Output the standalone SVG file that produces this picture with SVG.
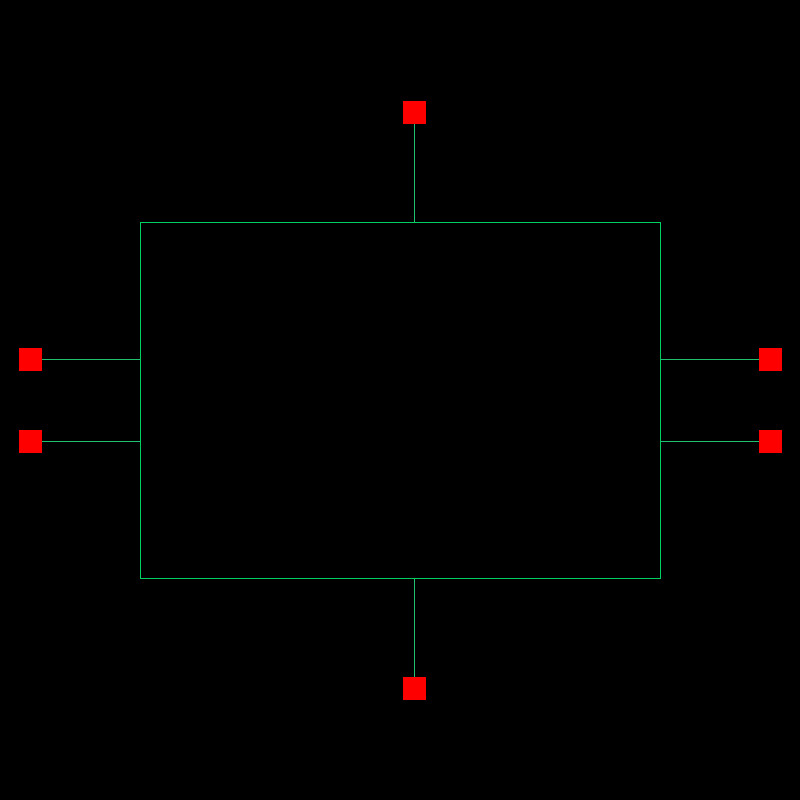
<svg xmlns="http://www.w3.org/2000/svg" width="800" height="800" viewBox="0 0 800 800">
<style>
.body{fill:none;stroke:#00d060;stroke-width:1}
.port{fill:#ff0000;stroke:none}
.wire{stroke:#20c070;stroke-width:1;fill:none}
</style>
<rect x="0" y="0" width="800" height="800" fill="#000000"/>
<g id="connectors">
<line class="wire" x1="414.5" y1="123" x2="414.5" y2="222.5"/>
<line class="wire" x1="414.5" y1="578.5" x2="414.5" y2="677"/>
<line class="wire" x1="42" y1="359.5" x2="140.5" y2="359.5"/>
<line class="wire" x1="42" y1="441.5" x2="140.5" y2="441.5"/>
<line class="wire" x1="660.5" y1="359.5" x2="759" y2="359.5"/>
<line class="wire" x1="660.5" y1="441.5" x2="759" y2="441.5"/>
</g>
<g id="block"><rect class="body" x="140.5" y="222.5" width="520" height="356"/></g>
<g id="port-top"><rect class="port" x="403" y="101" width="23" height="23"/></g>
<g id="port-bottom"><rect class="port" x="403" y="677" width="23" height="23"/></g>
<g id="port-left-1"><rect class="port" x="19" y="348" width="23" height="23"/></g>
<g id="port-left-2"><rect class="port" x="19" y="430" width="23" height="23"/></g>
<g id="port-right-1"><rect class="port" x="759" y="348" width="23" height="23"/></g>
<g id="port-right-2"><rect class="port" x="759" y="430" width="23" height="23"/></g>
</svg>
